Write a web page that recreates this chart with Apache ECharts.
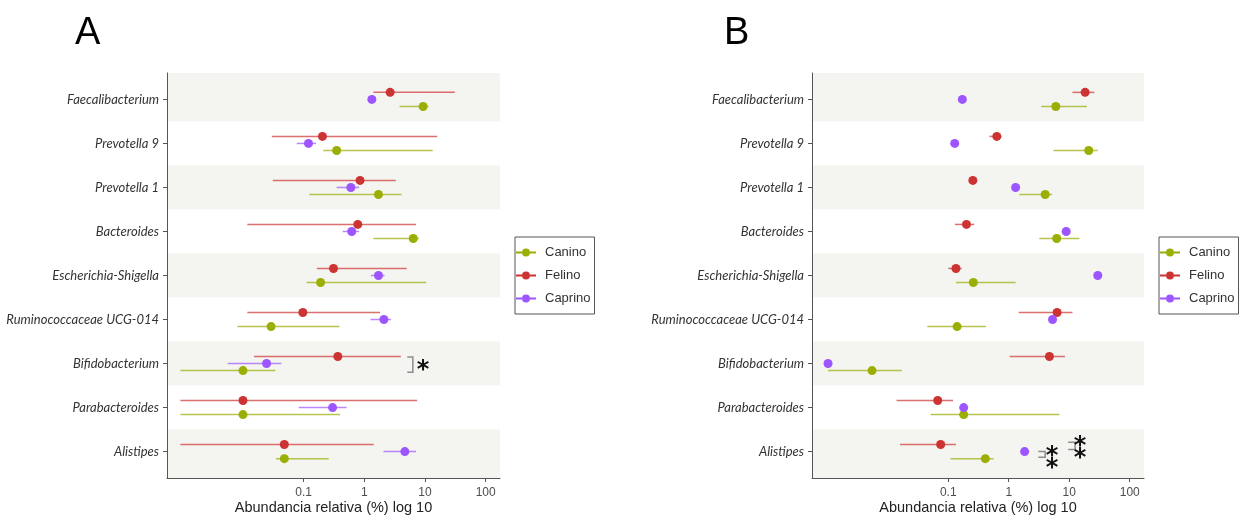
<!DOCTYPE html>
<html><head><meta charset="utf-8">
<script src="https://cdn.jsdelivr.net/npm/echarts@6/dist/echarts.min.js"></script>
<style>html,body{margin:0;padding:0;background:#fff}#c{width:1239px;height:516px}</style>
</head><body><div id="c"></div>
<script>
const categories = ['Faecalibacterium','Prevotella 9','Prevotella 1','Bacteroides','Escherichia-Shigella','Ruminococcaceae UCG-014','Bifidobacterium','Parabacteroides','Alistipes'];
const species = ['Canino','Felino','Caprino'];
const xTicks = [0.1, 1, 10, 100];

// Panel A (mean, low, high) in % relative abundance
const A_canino      = [9.3, 0.35, 1.71, 6.4, 0.19, 0.029, 0.01, 0.01, 0.048];
const A_canino_low  = [3.8, 0.21, 0.124, 1.41, 0.112, 0.0081, 0.00093, 0.00093, 0.035];
const A_canino_high = [11.4, 13.4, 4.1, 7.9, 10.4, 0.39, 0.034, 0.40, 0.26];
const A_felino      = [2.66, 0.204, 0.85, 0.78, 0.31, 0.097, 0.366, 0.01, 0.048];
const A_felino_low  = [1.41, 0.0299, 0.031, 0.0118, 0.165, 0.0118, 0.0152, 0.00093, 0.00093];
const A_felino_high = [31, 15.9, 3.3, 7.1, 5.0, 1.82, 4.0, 7.4, 1.43];
const A_caprino      = [1.33, 0.12, 0.6, 0.62, 1.71, 2.1, 0.0245, 0.3, 4.65];
const A_caprino_low  = [1.25, 0.077, 0.35, 0.44, 1.28, 1.26, 0.0056, 0.083, 2.07];
const A_caprino_high = [1.42, 0.16, 0.82, 0.82, 2.15, 2.76, 0.043, 0.51, 7.1];

// Panel B
const B_canino      = [6.0, 21, 4.0, 6.2, 0.26, 0.14, 0.0055, 0.18, 0.41];
const B_canino_low  = [3.45, 5.5, 1.5, 3.2, 0.134, 0.045, 0.00103, 0.051, 0.109];
const B_canino_high = [19.5, 29.6, 5.2, 14.7, 1.3, 0.42, 0.0172, 6.9, 0.56];
const B_felino      = [18.3, 0.635, 0.255, 0.2, 0.134, 6.3, 4.7, 0.067, 0.075];
const B_felino_low  = [11.3, 0.48, 0.235, 0.129, 0.1, 1.46, 1.04, 0.014, 0.016];
const B_felino_high = [26, 0.76, 0.275, 0.27, 0.167, 11.3, 8.5, 0.12, 0.134];
const B_caprino      = [0.171, 0.128, 1.3, 8.9, 29.6, 5.3, 0.00103, 0.18, 1.83];
const B_caprino_low  = [null, null, null, null, null, null, null, null, null];
const B_caprino_high = [null, null, null, null, null, null, null, null, null];

// significance annotations: [xLeft, xRight, yTop, yBottom] and asterisks [x, y]
const A_brackets = [[5.1, 6.3, 5.85, 6.2]];
const A_stars = [[9.3, 6.0]];
const B_brackets = [[3.08, 4.0, 8.0, 8.13], [9.6, 12.5, 7.79, 7.95]];
const B_stars = [[5.2, 7.95], [5.2, 8.22], [15.1, 7.74], [15.1, 8.01]];

const colors = {Canino: '#9aae04', Felino: '#cc3333', Caprino: '#9d55ff'};
const barColors = {Canino: 'rgba(154,174,4,0.7)', Felino: 'rgba(204,51,51,0.7)', Caprino: 'rgba(157,85,255,0.7)'};
const dodge = {Felino: -0.16, Caprino: 0, Canino: 0.16};

const panels = [
  {grid: {left: 167, top: 73, width: 333, height: 405},
   data: {Canino: [A_canino, A_canino_low, A_canino_high], Felino: [A_felino, A_felino_low, A_felino_high], Caprino: [A_caprino, A_caprino_low, A_caprino_high]},
   brackets: A_brackets, stars: A_stars, legendLeft: 515, letter: 'A', letterLeft: 70},
  {grid: {left: 812, top: 73, width: 332, height: 405},
   data: {Canino: [B_canino, B_canino_low, B_canino_high], Felino: [B_felino, B_felino_low, B_felino_high], Caprino: [B_caprino, B_caprino_low, B_caprino_high]},
   brackets: B_brackets, stars: B_stars, legendLeft: 1159, letter: 'B', letterLeft: 719}
];

const yMin = -0.6, yMax = 8.6;
const idx = categories.map((c, i) => i);
const bandData = idx.filter(i => i % 2 === 0).map(i => [
  {yAxis: i === 0 ? yMin : i - 0.5},
  {yAxis: i === categories.length - 1 ? yMax : i + 0.5}
]);

const grid = [], xAxis = [], yAxis = [], series = [], legend = [], title = [];
panels.forEach((p, g) => {
  grid.push(Object.assign({containLabel: false, outerBoundsMode: 'none'}, p.grid));
  xAxis.push({
    type: 'log', logBase: 10, gridIndex: g, min: 0.00056, max: 172, z: 10,
    axisLine: {show: true, onZero: false, lineStyle: {color: '#555', width: 1}},
    axisTick: {show: true, customValues: xTicks, length: 4, lineStyle: {color: '#555'}},
    axisLabel: {customValues: xTicks, color: '#4d4d4d', fontSize: 12, fontFamily: 'Liberation Sans', margin: 9,
      formatter: v => v >= 1 ? String(Math.round(v)) : String(+v.toPrecision(1))},
    splitLine: {show: false},
    name: 'Abundancia relativa (%) log 10', nameLocation: 'middle', nameGap: 22, nameMoveOverlap: false,
    nameTextStyle: {fontSize: 14.5, color: '#222', fontFamily: 'Liberation Sans'}
  });
  yAxis.push({
    type: 'value', gridIndex: g, min: yMin, max: yMax, inverse: true, z: 10,
    axisLine: {show: true, onZero: false, lineStyle: {color: '#555', width: 1}},
    axisTick: {show: true, customValues: idx, length: 4, lineStyle: {color: '#555'}},
    axisLabel: {customValues: idx, formatter: v => categories[Math.round(v)] || '', fontStyle: 'italic',
      fontFamily: 'Lato', fontSize: 13, color: '#333', margin: 8},
    splitLine: {show: false}
  });
  // background bands
  series.push({
    type: 'scatter', xAxisIndex: g, yAxisIndex: g, data: [], silent: true, z: 0,
    markArea: {silent: true, itemStyle: {color: '#f4f4f0'}, data: bandData}
  });
  species.forEach(s => {
    const [mean, low, high] = p.data[s];
    const errData = [];
    mean.forEach((m, i) => { if (low[i] != null) errData.push([low[i], high[i], i + dodge[s]]); });
    series.push({
      type: 'custom', name: s + ' IC', xAxisIndex: g, yAxisIndex: g, z: 3, silent: true,
      encode: {x: [0, 1], y: 2},
      data: errData,
      renderItem: (params, api) => {
        const p0 = api.coord([api.value(0), api.value(2)]);
        const p1 = api.coord([api.value(1), api.value(2)]);
        return {type: 'line', shape: {x1: p0[0], y1: p0[1], x2: p1[0], y2: p1[1]}, style: {stroke: barColors[s], lineWidth: 1.5}};
      }
    });
  });
  species.forEach(s => {
    const mean = p.data[s][0];
    series.push({
      type: 'scatter', name: s, xAxisIndex: g, yAxisIndex: g, z: 4,
      symbol: 'circle', symbolSize: 9, itemStyle: {color: colors[s], opacity: 1},
      data: mean.map((m, i) => [m, i + dodge[s]])
    });
  });
  // brackets
  series.push({
    type: 'custom', xAxisIndex: g, yAxisIndex: g, z: 5, silent: true,
    encode: {x: [0, 1], y: [2, 3]},
    data: p.brackets,
    renderItem: (params, api) => {
      const a = api.coord([api.value(0), api.value(2)]);
      const b = api.coord([api.value(1), api.value(3)]);
      return {type: 'polyline', shape: {points: [[a[0], a[1]], [b[0], a[1]], [b[0], b[1]], [a[0], b[1]]]},
        style: {stroke: '#8c8c8c', lineWidth: 1.5, fill: null}};
    }
  });
  series.push({
    type: 'custom', xAxisIndex: g, yAxisIndex: g, z: 5, silent: true,
    data: p.stars,
    renderItem: (params, api) => {
      const c = api.coord([api.value(0), api.value(1)]);
      return {type: 'text', x: c[0], y: c[1] + 7, style: {text: '*', fontSize: 24, fontWeight: 'bold', fontFamily: 'DejaVu Sans',
        fill: '#111', align: 'center', verticalAlign: 'middle'}};
    }
  });
  legend.push({
    data: species, orient: 'vertical', left: p.legendLeft, top: 237,
    padding: [9, 4, 9, 1], itemGap: 10, itemWidth: 20, itemHeight: 8,
    borderColor: '#555', borderWidth: 1, borderRadius: 0,
    icon: 'path://M0,9 L6,9 L6,11 L0,11 Z M14,9 L20,9 L20,11 L14,11 Z M10,6 A4,4 0 1,1 9.999,6 Z',
    textStyle: {fontSize: 13, color: '#333', fontFamily: 'Liberation Sans', padding: [0, 0, 0, 4]},
    selectedMode: false
  });
  title.push({text: p.letter, left: p.letterLeft, top: 10,
    textStyle: {fontSize: 38, fontWeight: 'normal', color: '#000', fontFamily: 'Liberation Sans'}});
});

const chart = echarts.init(document.getElementById('c'), null, {renderer: 'canvas'});
chart.setOption({animation: false, backgroundColor: '#fff', title, legend, grid, xAxis, yAxis, series});
</script></body></html>
